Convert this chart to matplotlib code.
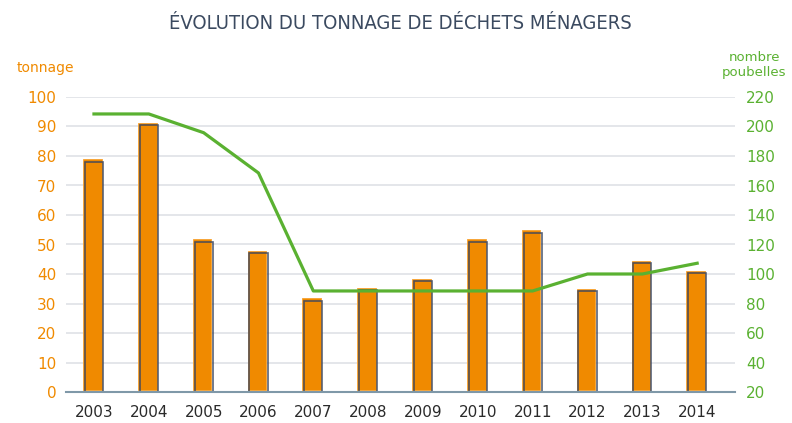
import matplotlib.pyplot as plt
import matplotlib.transforms as mtransforms

# données annuelles
annees = ["2003", "2004", "2005", "2006", "2007", "2008", "2009",
          "2010", "2011", "2012", "2013", "2014"]
tonnage = [78, 90.5, 51, 47, 31, 34.5, 37.5, 51, 54, 34.2, 43.6, 40.3]
poubelles = [208.5, 208.5, 195.8, 168.5, 88.5, 88.5, 88.5, 88.5, 88.5, 100, 100, 107.3]

ORANGE = "#f08a00"
VERT = "#5ab131"
TITRE = "#3b4a60"

plt.rcParams['font.family'] = ['DejaVu Sans']

fig = plt.figure(figsize=(7.92, 4.23), dpi=100)
ax = fig.add_axes([66 / 792, 31 / 423, 669 / 792, 295 / 423])
ax2 = ax.twinx()

x = list(range(len(annees)))

# barres : remplissage orange légèrement décalé + contour sombre
decal = mtransforms.offset_copy(ax.transData, fig=fig, x=-1.5, y=2.5, units='dots')
ax.bar(x, tonnage, width=0.34, color=ORANGE, edgecolor="#f7a230",
       linewidth=0.6, transform=decal, zorder=3)
ax.bar(x, tonnage, width=0.33, facecolor="none", edgecolor="#3a4660",
       linewidth=1.2, alpha=0.85, zorder=4)

ax.set_xlim(-0.51, 11.69)
ax.set_ylim(0, 100)
ax.set_yticks(range(0, 101, 10))
ax.yaxis.grid(True, color="#dfe2e6", linewidth=1.2)
ax.set_axisbelow(True)
ax.set_xticks(x)
ax.set_xticklabels(annees)

for s in ax.spines.values():
    s.set_visible(False)
ax.spines['bottom'].set_visible(True)
ax.spines['bottom'].set_color("#7f98a8")
ax.spines['bottom'].set_linewidth(1.5)
ax.spines['bottom'].set_zorder(5)

ax.tick_params(axis='y', length=0, labelcolor=ORANGE, labelsize=11, pad=7)
ax.tick_params(axis='x', length=0, labelcolor="#2a2a2a", labelsize=11, pad=9)

# courbe du nombre de poubelles
ax2.plot(x, poubelles, color=VERT, linewidth=2.3, zorder=6)
ax2.set_ylim(20, 220)
ax2.set_yticks(range(20, 221, 20))
for s in ax2.spines.values():
    s.set_visible(False)
ax2.tick_params(axis='y', length=0, labelcolor=VERT, labelsize=11, pad=8)

fig.text(0.505, 0.945, "ÉVOLUTION DU TONNAGE DE DÉCHETS MÉNAGERS",
         ha='center', va='center', fontsize=14.5, color=TITRE,
         family='DejaVu Sans', stretch='condensed')
fig.text(45 / 792, 1 - 68 / 423, "tonnage", ha='center', va='center',
         fontsize=10, color=ORANGE)
fig.text(754 / 792, 1 - 65 / 423, "nombre\npoubelles", ha='center', va='center',
         fontsize=9.5, color=VERT, linespacing=1.15)

fig.savefig("out.png", dpi=100, facecolor="white")
